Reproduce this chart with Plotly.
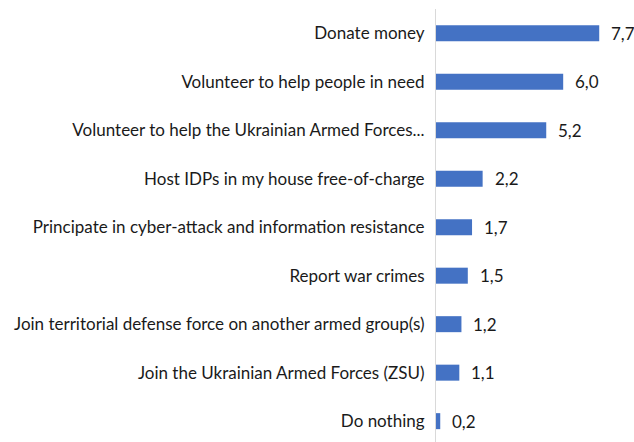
import plotly.graph_objects as go

categories = [
    "Donate money",
    "Volunteer to help people in need",
    "Volunteer to help the Ukrainian Armed Forces...",
    "Host IDPs in my house free-of-charge",
    "Principate in cyber-attack and information resistance",
    "Report war crimes",
    "Join territorial defense force on another armed group(s)",
    "Join the Ukrainian Armed Forces (ZSU)",
    "Do nothing",
]
values = [7.7, 6.0, 5.2, 2.2, 1.7, 1.5, 1.2, 1.1, 0.2]
value_labels = [f"{v:.1f}".replace(".", ",") for v in values]

FONT = "Lato"
SIZE = 17
fig = go.Figure(go.Bar(
    y=categories, x=values, orientation="h",
    marker=dict(color="#4472C4", line=dict(width=0)),
    width=0.33,
))

for c, v, t in zip(categories, values, value_labels):
    fig.add_annotation(x=v, y=c, text=t, showarrow=False, xanchor="left",
                       xshift=10, font=dict(family=FONT, size=SIZE, color="#1a1a1a"))

fig.update_layout(
    width=634, height=442,
    margin=dict(l=436, r=0, t=9, b=0),
    paper_bgcolor="white", plot_bgcolor="white",
    showlegend=False,
    font=dict(family=FONT, size=SIZE, color="#1a1a1a"),
    xaxis=dict(range=[0, 9.34], visible=False, showgrid=False, zeroline=False),
    yaxis=dict(type="category", range=[8.43, -0.5], showline=True, linecolor="#d9d9d9",
               linewidth=1, ticks="", showgrid=False, ticklabelstandoff=7,
               tickfont=dict(family=FONT, size=SIZE, color="#1a1a1a")),
)

fig.write_html("out.html", config={"displayModeBar": False},
               post_script="document.body.style.margin='0';document.body.style.padding='0';")
